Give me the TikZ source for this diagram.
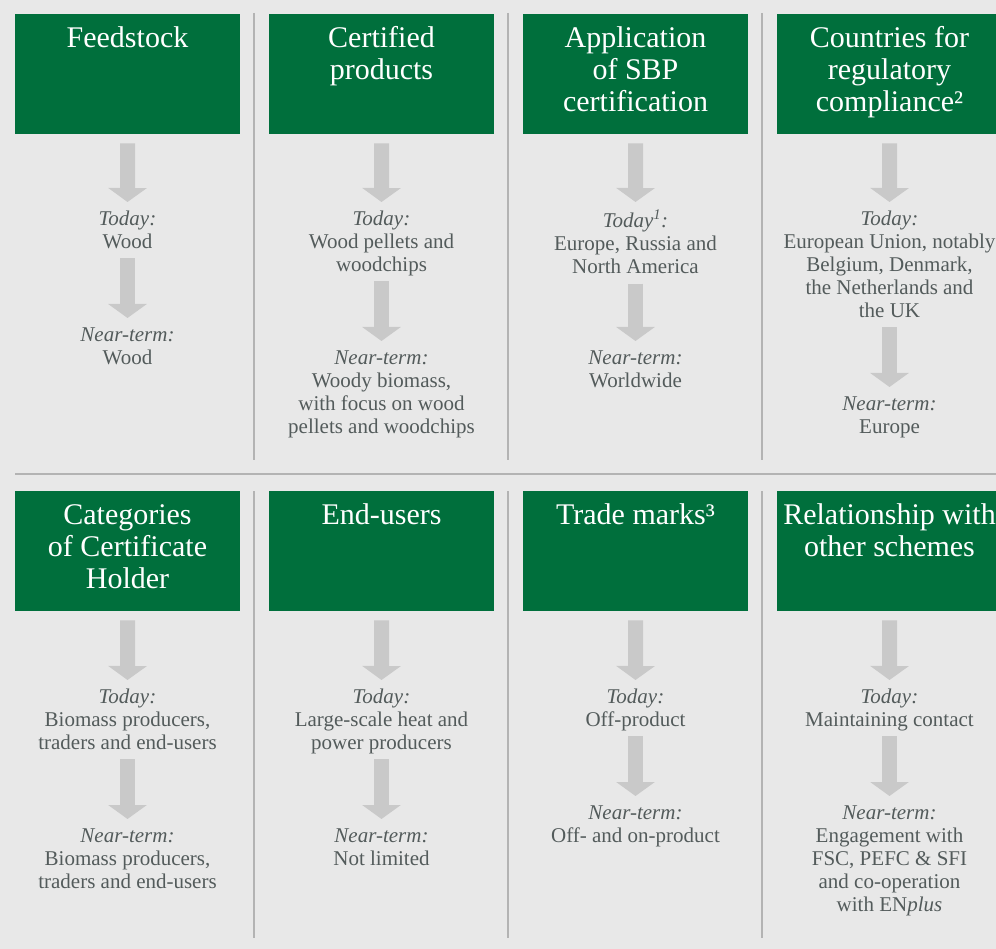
\documentclass[tikz,border=0pt]{standalone}
\usepackage{fontspec}
\setmainfont{Liberation Serif}
\usetikzlibrary{arrows.meta}
\definecolor{sbpgreen}{HTML}{006F3C}
\definecolor{bggrey}{HTML}{E8E8E8}
\definecolor{txtgrey}{HTML}{535B5B}
\definecolor{arrgrey}{HTML}{C9C9C9}
\definecolor{linegrey}{HTML}{B3B3B3}
\newcommand\firstl{\rule{0pt}{15pt}}
\newcommand\lastl{\rule[-5pt]{0pt}{5pt}}
\newcommand\hfirst{\rule{0pt}{22pt}}
\tikzset{
  hdr/.style={fill=sbpgreen, draw=none, minimum width=225pt, minimum height=120pt, anchor=north west, inner sep=0pt},
  htxt/.style={text=white, font=\fontsize{30}{32}\selectfont, align=center, anchor=north, inner sep=0pt},
  btxt/.style={text=txtgrey, font=\fontsize{21}{23}\selectfont, align=center, anchor=north, inner sep=0pt},
  barrow/.style={draw=arrgrey, line width=15pt, -{Triangle[width=38pt,length=14pt]}},
  sepline/.style={draw=linegrey, line width=2.2pt}
}
\begin{document}
\begin{tikzpicture}[x=1pt,y=-1pt]
\useasboundingbox (0,0) rectangle (996,949);
\clip (0,0) rectangle (996,949);
\fill[bggrey] (0,0) rectangle (996,949);

% separators
\draw[sepline] (254,13) -- (254,460);
\draw[sepline] (508,13) -- (508,460);
\draw[sepline] (762,13) -- (762,460);
\draw[sepline] (254,491) -- (254,938);
\draw[sepline] (508,491) -- (508,938);
\draw[sepline] (762,491) -- (762,938);
\draw[sepline] (15,474) -- (996,474);

% headers row 1
\node[hdr] (h1) at (15,14) {};
\node[hdr] (h2) at (269,14) {};
\node[hdr] (h3) at (523,14) {};
\node[hdr] (h4) at (777,14) {};
\node[htxt] (h1t) at (127.5,25.5) {\hfirst Feedstock};
\node[htxt] (h2t) at (381.5,25.5) {\hfirst Certified\\products};
\node[htxt] (h3t) at (635.5,25.5) {\hfirst Application\\of SBP\\certification};
\node[htxt] (h4t) at (889.5,25.5) {\hfirst Countries for\\regulatory\\compliance²};

% headers row 2
\node[hdr] (h5) at (15,491) {};
\node[hdr] (h6) at (269,491) {};
\node[hdr] (h7) at (523,491) {};
\node[hdr] (h8) at (777,491) {};
\node[htxt] (h5t) at (127.5,502.5) {\hfirst Categories\\of Certificate\\Holder};
\node[htxt] (h6t) at (381.5,502.5) {\hfirst End-users};
\node[htxt] (h7t) at (635.5,502.5) {\hfirst Trade marks³};
\node[htxt] (h8t) at (889.5,502.5) {\hfirst Relationship with\\other schemes};

% row 1 texts
\node[btxt] (t1) at (127.5,210) {\firstl\textit{Today:}\\Wood\lastl};
\node[btxt] (n1) at (127.5,326) {\firstl\textit{Near-term:}\\Wood\lastl};
\node[btxt] (t2) at (381.5,210) {\firstl\textit{Today:}\\Wood pellets and\\woodchips\lastl};
\node[btxt] (n2) at (381.5,349) {\firstl\textit{Near-term:}\\Woody biomass,\\with focus on wood\\pellets and woodchips\lastl};
\node[btxt] (t3) at (635.5,210) {\firstl\textit{Today\textsuperscript{1}:}\\Europe, Russia and\\North America\lastl};
\node[btxt] (n3) at (635.5,349) {\firstl\textit{Near-term:}\\Worldwide\lastl};
\node[btxt] (t4) at (889.5,210) {\firstl\textit{Today:}\\European Union, notably\\Belgium, Denmark,\\the Netherlands and\\the UK\lastl};
\node[btxt] (n4) at (889.5,395) {\firstl\textit{Near-term:}\\Europe\lastl};

% row 2 texts
\node[btxt] (t5) at (127.5,688) {\firstl\textit{Today:}\\Biomass producers,\\traders and end-users\lastl};
\node[btxt] (n5) at (127.5,827) {\firstl\textit{Near-term:}\\Biomass producers,\\traders and end-users\lastl};
\node[btxt] (t6) at (381.5,688) {\firstl\textit{Today:}\\Large-scale heat and\\power producers\lastl};
\node[btxt] (n6) at (381.5,827) {\firstl\textit{Near-term:}\\Not limited\lastl};
\node[btxt] (t7) at (635.5,688) {\firstl\textit{Today:}\\Off-product\lastl};
\node[btxt] (n7) at (635.5,804) {\firstl\textit{Near-term:}\\Off- and on-product\lastl};
\node[btxt] (t8) at (889.5,688) {\firstl\textit{Today:}\\Maintaining contact\lastl};
\node[btxt] (n8) at (889.5,804) {\firstl\textit{Near-term:}\\Engagement with\\FSC, PEFC \& SFI\\and co-operation\\with EN\textit{plus}\lastl};

% arrows
\foreach \h/\t/\n in {h1/t1/n1,h2/t2/n2,h3/t3/n3,h4/t4/n4,h5/t5/n5,h6/t6/n6,h7/t7/n7,h8/t8/n8}{
  \draw[barrow] ([yshift=-9pt]\h.south) -- ([yshift=8pt]\t.north);
  \draw[barrow] ([yshift=-5pt]\t.south) -- ([yshift=8pt]\n.north);
}
\end{tikzpicture}
\end{document}
